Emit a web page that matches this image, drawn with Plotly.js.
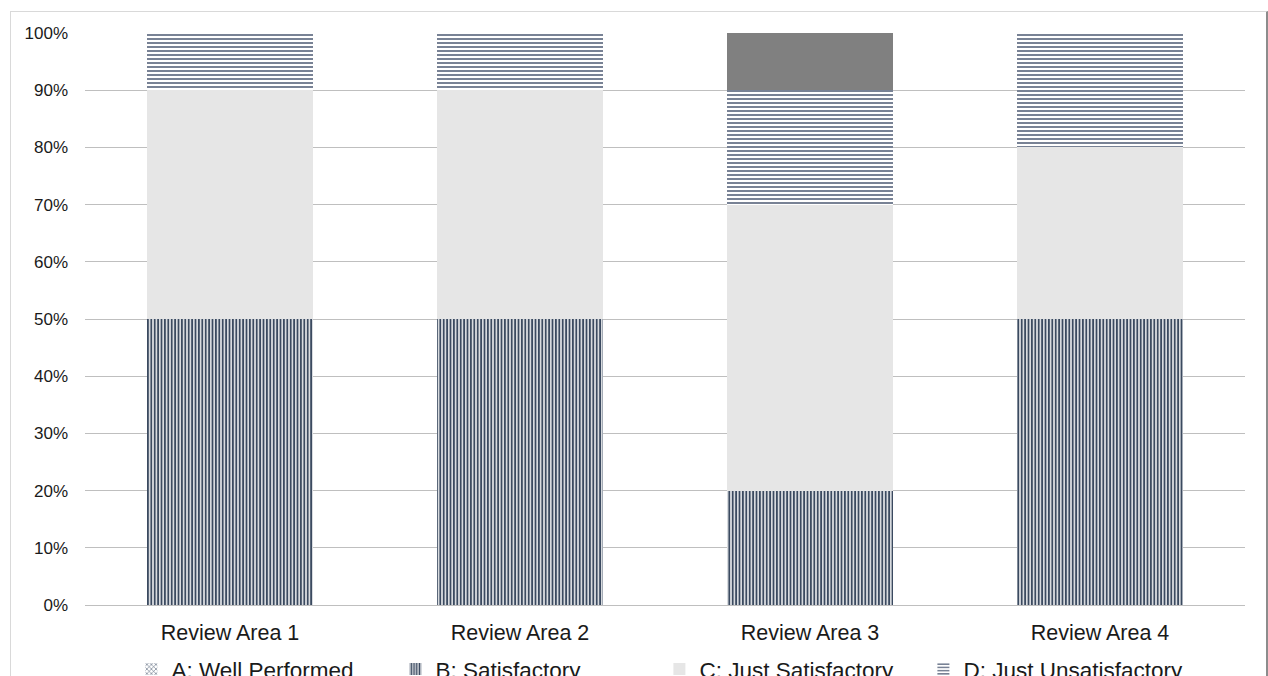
<!DOCTYPE html>
<html>
<head>
<meta charset="utf-8">
<script src="https://cdn.plot.ly/plotly-3.0.1.min.js"></script>
<style>
  html, body { margin: 0; padding: 0; background: #fff; }
  #wrap { position: relative; width: 1268px; height: 676px; overflow: hidden; }
  #chart { width: 1268px; height: 676px; }
  #frame { position: absolute; left: 10px; top: 11px; width: 1255px; height: 700px;
           border-left: 1px solid #d9d9d9; border-top: 1px solid #d9d9d9; border-right: 2px solid #8c8c8c;
           pointer-events: none; }
</style>
</head>
<body>
<div id="wrap">
  <div id="chart"></div>
  <div id="frame"></div>
</div>
<script>
const categories = ["Review Area 1", "Review Area 2", "Review Area 3", "Review Area 4"];
const seriesNames = ["A: Well Performed", "B: Satisfactory", "C: Just Satisfactory", "D: Just Unsatisfactory", "E: Unsatisfactory"];
const valuesA = [0, 0, 0, 0];
const valuesB = [50, 50, 20, 50];
const valuesC = [40, 40, 50, 30];
const valuesD = [10, 10, 20, 20];
const valuesE = [0, 0, 10, 0];
const yTickVals = [0, 10, 20, 30, 40, 50, 60, 70, 80, 90, 100];
const yTickText = ["0%", "10%", "20%", "30%", "40%", "50%", "60%", "70%", "80%", "90%", "100%"];

const navy = "#44546A";
const traces = [
  { name: seriesNames[0], y: valuesA,
    marker: { color: "#ffffff", pattern: { shape: "x", fgcolor: navy, bgcolor: "#ffffff", size: 4, solidity: 0.3 } } },
  { name: seriesNames[1], y: valuesB,
    marker: { color: "#ffffff", pattern: { shape: "|", fgcolor: "#3b4a60", bgcolor: "#ffffff", size: 3.4, solidity: 0.6 } } },
  { name: seriesNames[2], y: valuesC,
    marker: { color: "#E6E6E6" } },
  { name: seriesNames[3], y: valuesD,
    marker: { color: "#ffffff", pattern: { shape: "-", fgcolor: "#55627a", bgcolor: "#ffffff", size: 4, solidity: 0.4 } } },
  { name: seriesNames[4], y: valuesE,
    marker: { color: "#808080" } }
].map(t => Object.assign({
  type: "bar", x: categories, hoverinfo: "skip"
}, t));
traces.forEach(t => { t.marker.line = { width: 0 }; });

const layout = {
  width: 1268, height: 676,
  barmode: "stack",
  bargap: 0.43,
  paper_bgcolor: "#ffffff",
  plot_bgcolor: "#ffffff",
  margin: { l: 85, r: 23, t: 33, b: 71, autoexpand: false },
  font: { family: "Liberation Sans, Arial, sans-serif", color: "#404040" },
  xaxis: {
    type: "category",
    showgrid: false,
    showline: true, linecolor: "#BFBFBF", linewidth: 1,
    ticks: "", ticklabelstandoff: 8,
    tickfont: { size: 21.5, color: "#1a1a1a" }
  },
  yaxis: {
    range: [0, 100],
    tickvals: yTickVals, ticktext: yTickText,
    showgrid: true, gridcolor: "#BFBFBF", gridwidth: 1,
    zeroline: false, showline: false,
    ticks: "", ticklabelstandoff: 16,
    tickfont: { size: 17, color: "#1a1a1a" }
  },
  showlegend: true,
  legend: {
    orientation: "h",
    x: 0.04, xanchor: "left",
    y: -0.075, yanchor: "top",
    entrywidth: 219, entrywidthmode: "pixels",
    itemwidth: 30,
    traceorder: "normal",
    font: { size: 22.5, color: "#1a1a1a" },
    bgcolor: "rgba(0,0,0,0)"
  }
};

Plotly.newPlot("chart", traces, layout, { displayModeBar: false, staticPlot: true });
</script>
</body>
</html>
